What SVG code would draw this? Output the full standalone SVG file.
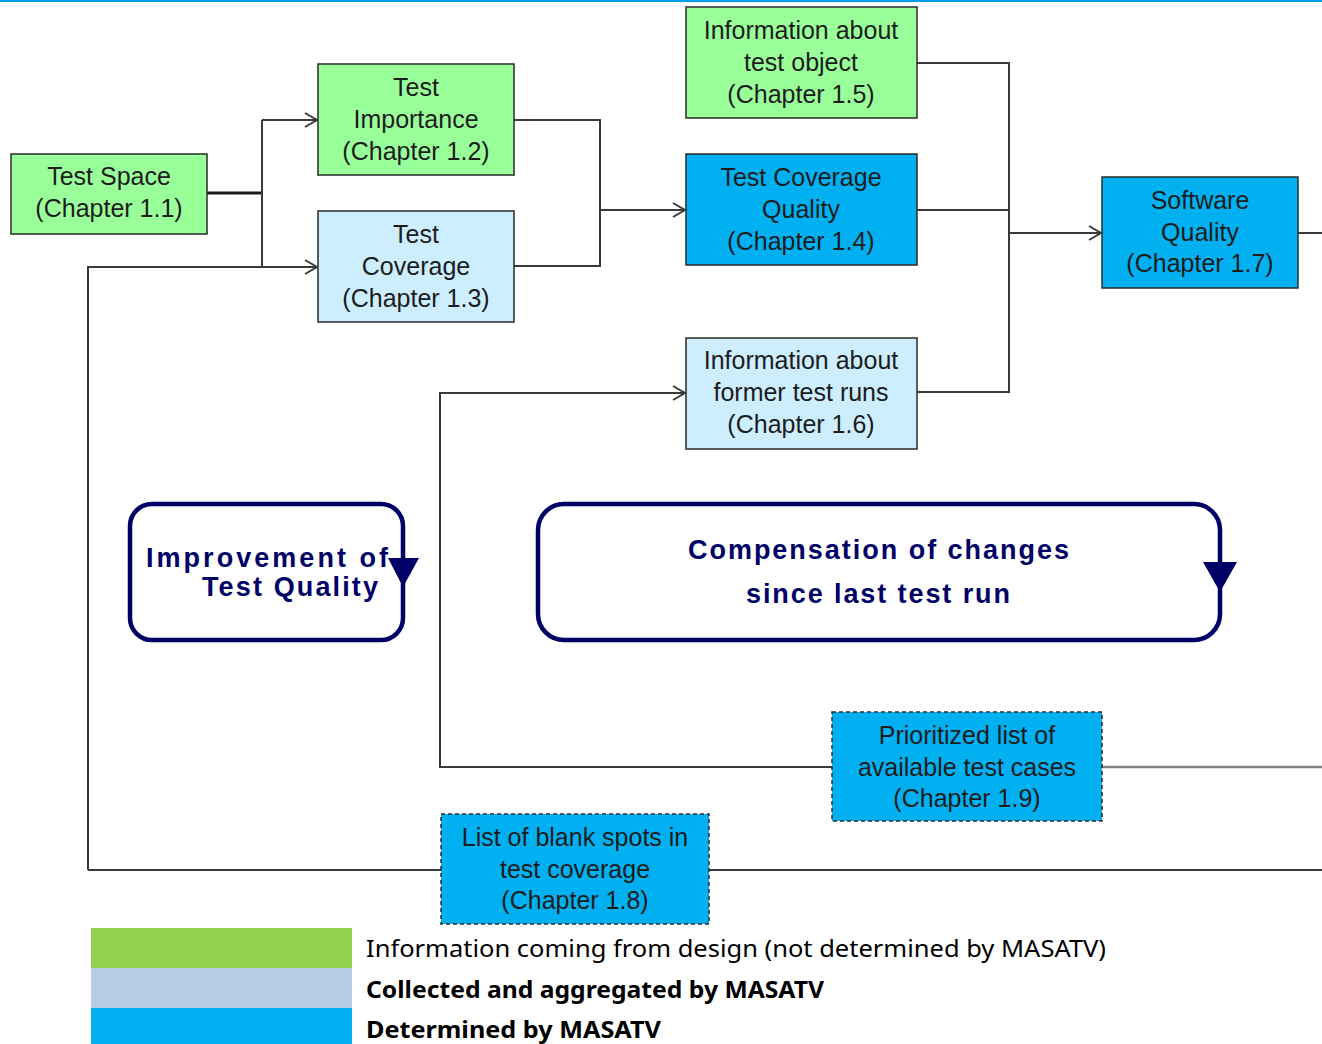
<svg xmlns="http://www.w3.org/2000/svg" width="1322" height="1044" viewBox="0 0 1322 1044">
  <style>
    .node { stroke: #2a2a2a; stroke-width: 1.5; }
    .green { fill: #99ff99; }
    .light { fill: #cceeff; }
    .blue { fill: #00b0f0; }
    .dashed { stroke-dasharray: 4 3; }
    .label { font-family: "Liberation Sans", Arial, sans-serif; font-size: 25px; fill: #1c1c1c; text-anchor: middle; }
    .conn { fill: none; stroke: #3a3a3a; stroke-width: 2; }
    .grey { stroke: #808080; stroke-width: 2.5; }
    .loop { fill: none; stroke: #000066; stroke-width: 4.5; }
    .loopText { font-family: "Liberation Sans", Arial, sans-serif; font-weight: bold; font-size: 27px; fill: #000066; }
    .legend { font-family: "Noto Sans", "Open Sans", sans-serif; font-size: 24px; fill: #000; }
  </style>
  <defs>
    <marker id="open" markerUnits="userSpaceOnUse" markerWidth="16" markerHeight="18" viewBox="0 0 16 18" refX="14" refY="9" orient="auto">
      <path d="M2,2 L14,9 L2,16" fill="none" stroke="#3a3a3a" stroke-width="2"/>
    </marker>
  </defs>

  <rect width="1322" height="1044" fill="#ffffff"/>
  <!-- top rule -->
  <line x1="0" y1="1" x2="1322" y2="1" stroke="#00a0e8" stroke-width="2"/>

  <!-- connectors -->
  <g id="connectors">
    <line x1="207" y1="193" x2="262" y2="193" stroke="#1a1a1a" stroke-width="3"/>
    <polyline class="conn" points="262,120 262,266"/>
    <line class="conn" x1="262" y1="120" x2="317" y2="120" marker-end="url(#open)"/>
    <polyline class="conn" points="88,870 88,267 317,267" marker-end="url(#open)"/>
    <polyline class="conn" points="514,120 600,120 600,266 514,266"/>
    <line class="conn" x1="600" y1="210" x2="685" y2="210" marker-end="url(#open)"/>
    <polyline class="conn" points="917,63 1009,63 1009,392 917,392"/>
    <line class="conn" x1="917" y1="210" x2="1009" y2="210"/>
    <line class="conn" x1="1009" y1="233" x2="1101" y2="233" stroke-width="2.5" marker-end="url(#open)"/>
    <line class="conn" x1="1298" y1="233" x2="1322" y2="233"/>
    <polyline class="conn" points="832,767 440,767 440,393 685,393" marker-end="url(#open)"/>
    <line class="conn grey" x1="1102" y1="767" x2="1322" y2="767"/>
    <line class="conn" x1="88" y1="870" x2="441" y2="870"/>
    <line class="conn" x1="709" y1="870" x2="1322" y2="870"/>
  </g>

  <g id="test-space">
    <rect class="node green" x="11" y="154" width="196" height="80"/>
    <text class="label" x="109" y="185">Test Space</text>
    <text class="label" x="109" y="217">(Chapter 1.1)</text>
  </g>
  <g id="test-importance">
    <rect class="node green" x="318" y="64" width="196" height="111"/>
    <text class="label" x="416" y="96">Test</text>
    <text class="label" x="416" y="128">Importance</text>
    <text class="label" x="416" y="160">(Chapter 1.2)</text>
  </g>
  <g id="test-coverage">
    <rect class="node light" x="318" y="211" width="196" height="111"/>
    <text class="label" x="416" y="243">Test</text>
    <text class="label" x="416" y="275">Coverage</text>
    <text class="label" x="416" y="307">(Chapter 1.3)</text>
  </g>
  <g id="test-object-info">
    <rect class="node green" x="686" y="7" width="231" height="111"/>
    <text class="label" x="801" y="39">Information about</text>
    <text class="label" x="801" y="71">test object</text>
    <text class="label" x="801" y="103">(Chapter 1.5)</text>
  </g>
  <g id="coverage-quality">
    <rect class="node blue" x="686" y="154" width="231" height="111"/>
    <text class="label" x="801" y="186">Test Coverage</text>
    <text class="label" x="801" y="218">Quality</text>
    <text class="label" x="801" y="250">(Chapter 1.4)</text>
  </g>
  <g id="software-quality">
    <rect class="node blue" x="1102" y="177" width="196" height="111"/>
    <text class="label" x="1200" y="209">Software</text>
    <text class="label" x="1200" y="241">Quality</text>
    <text class="label" x="1200" y="272">(Chapter 1.7)</text>
  </g>
  <g id="former-runs-info">
    <rect class="node light" x="686" y="338" width="231" height="111"/>
    <text class="label" x="801" y="369">Information about</text>
    <text class="label" x="801" y="401">former test runs</text>
    <text class="label" x="801" y="433">(Chapter 1.6)</text>
  </g>
  <g id="prioritized-list">
    <rect class="node blue dashed" x="832" y="712" width="270" height="109"/>
    <text class="label" x="967" y="744">Prioritized list of</text>
    <text class="label" x="967" y="776">available test cases</text>
    <text class="label" x="967" y="807">(Chapter 1.9)</text>
  </g>
  <g id="blank-spots">
    <rect class="node blue dashed" x="441" y="814" width="268" height="110"/>
    <text class="label" x="575" y="846">List of blank spots in</text>
    <text class="label" x="575" y="878">test coverage</text>
    <text class="label" x="575" y="909">(Chapter 1.8)</text>
  </g>

  <!-- feedback loops -->
  <g id="improvement-loop">
    <rect class="loop" x="130" y="504" width="273" height="136" rx="22"/>
    <polygon points="388,558 419,558 403,587" fill="#000066"/>
    <text class="loopText" x="146" y="567" textLength="242" lengthAdjust="spacing">Improvement of</text>
    <text class="loopText" x="202" y="596" textLength="176" lengthAdjust="spacing">Test Quality</text>
  </g>
  <g id="compensation-loop">
    <rect class="loop" x="538" y="504" width="682" height="136" rx="26"/>
    <polygon points="1203,562 1237,562 1220,592" fill="#000066"/>
    <text class="loopText" x="688" y="559" textLength="381" lengthAdjust="spacing">Compensation of changes</text>
    <text class="loopText" x="746" y="603" textLength="264" lengthAdjust="spacing">since last test run</text>
  </g>

  <!-- legend -->
  <g id="legend">
    <rect x="91" y="928" width="261" height="40" fill="#92d050"/>
    <rect x="91" y="968" width="261" height="40" fill="#b8cce4"/>
    <rect x="91" y="1008" width="261" height="36" fill="#00b0f0"/>
    <text class="legend" x="366" y="957" textLength="740" lengthAdjust="spacingAndGlyphs">Information coming from design (not determined by MASATV)</text>
    <text class="legend" x="366" y="998" font-weight="bold" textLength="458" lengthAdjust="spacingAndGlyphs">Collected and aggregated by MASATV</text>
    <text class="legend" x="366" y="1038" font-weight="bold" textLength="295" lengthAdjust="spacingAndGlyphs">Determined by MASATV</text>
  </g>
</svg>
